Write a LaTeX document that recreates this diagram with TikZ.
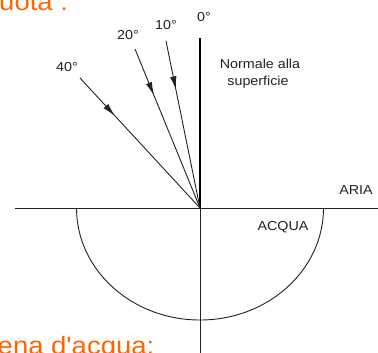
\documentclass[tikz,border=0pt]{standalone}
\usepackage{fontspec}
\setmainfont{Liberation Sans}
\usetikzlibrary{arrows.meta,decorations.markings}
\definecolor{slideorange}{HTML}{FF6600}
\definecolor{ink}{HTML}{222222}
\tikzset{
  lbl/.style={font=\fontsize{13}{15}\selectfont, text=ink, inner sep=0pt, xscale=1.1},
  orangetxt/.style={font=\fontsize{25}{29}\selectfont, text=slideorange, inner sep=0pt, xscale=1.1},
  thin line/.style={draw=ink, line width=0.9pt},
  ray/.style={thin line, postaction={decorate}, decoration={markings,
      mark=at position 0.29 with {\arrow{Latex[length=13pt,width=6.5pt]}}}},
}
\begin{document}
\begin{tikzpicture}[x=1pt,y=-1pt]
\useasboundingbox (0,0) rectangle (378,353);
\clip (0,0) rectangle (378,353);
\fill[white] (0,0) rectangle (378,353);
% coordinates
\coordinate (O) at (200,208);
\coordinate (N0) at (200,38);
\coordinate (Nb) at (200,353);
\coordinate (HL) at (15,208);
\coordinate (HR) at (378,208);
\coordinate (S40) at (80,78);
\coordinate (S20) at (135,49);
\coordinate (S10) at (166,41);
\coordinate (EL) at (76.5,208);
% surface and normal
\draw[thin line] (HL) -- (HR);
\draw[thin line] (O) -- (Nb);
\draw[draw=black, line width=2.6pt] (N0) -- (O);
\draw[thin line] (EL) arc[start angle=180, end angle=0, x radius=123.5, y radius=112];
% rays
\draw[ray] (S40) -- (O);
\draw[ray] (S20) -- (O);
\draw[ray] (S10) -- (O);
% labels
\node[lbl] (l0) at (204,17) {0°};
\node[lbl] (l10) at (166,25) {10°};
\node[lbl] (l20) at (128,35) {20°};
\node[lbl] (l40) at (67,67) {40°};
\node[lbl] (nrm1) at (260,64) {Normale alla};
\node[lbl] (nrm2) at (258,82) {superficie};
\node[lbl] (aria) at (356,190) {ARIA};
\node[lbl] (acqua) at (283,227) {ACQUA};
% slide text (cropped at the edges)
\node[orangetxt, anchor=base west] (top) at (-1,10.5) {uota :};
\node[orangetxt, anchor=base west] (bot) at (-2.5,354) {ena d\textquotesingle acqua:};
\end{tikzpicture}
\end{document}
